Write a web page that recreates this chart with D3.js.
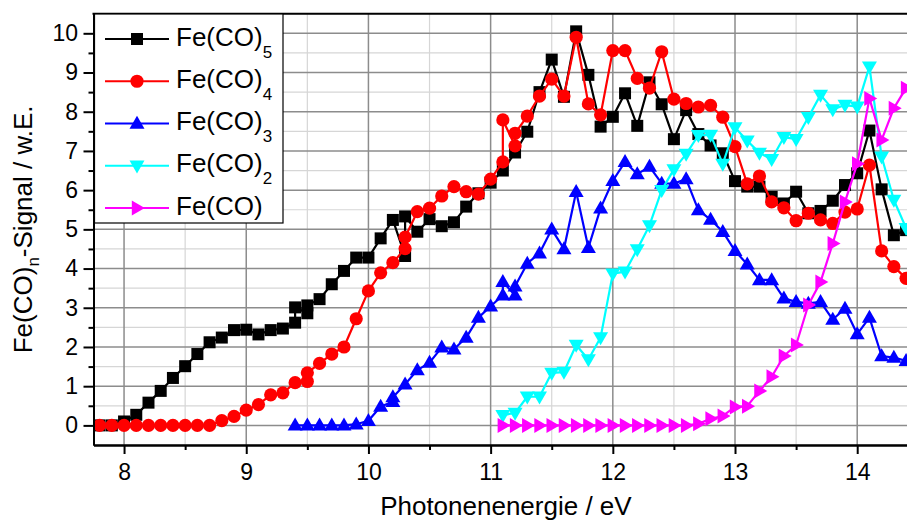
<!DOCTYPE html>
<html>
<head>
<meta charset="utf-8">
<script src="https://cdn.jsdelivr.net/npm/d3@7"></script>
<style>
  html, body { margin: 0; padding: 0; background: #fff; }
  svg { display: block; font-family: Arial, "Liberation Sans", sans-serif; }
</style>
</head>
<body>
<svg id="chart" width="907" height="522"></svg>
<script>
// Photon energies (eV) and signals for each fragment ion
const fe5Energy = [7.8,7.9,8.0,8.1,8.2,8.3,8.4,8.5,8.6,8.7,8.8,8.9,9.0,9.1,9.2,9.3,9.4,9.4,9.5,9.5,9.6,9.7,9.8,9.9,10.0,10.1,10.2,10.3,10.3,10.4,10.5,10.6,10.7,10.8,10.9,11.0,11.1,11.2,11.3,11.4,11.5,11.6,11.7,11.8,11.9,12.0,12.1,12.2,12.3,12.4,12.5,12.6,12.7,12.8,12.9,13.0,13.1,13.2,13.3,13.4,13.5,13.6,13.7,13.8,13.9,14.0,14.1,14.2,14.3,14.4];
const fe5Signal = [0.0,0.0,0.1,0.27,0.58,0.88,1.21,1.51,1.82,2.12,2.24,2.43,2.44,2.32,2.43,2.47,2.62,3.01,2.86,3.06,3.22,3.6,3.94,4.28,4.28,4.77,5.24,4.32,5.33,4.94,5.26,5.08,5.18,5.58,5.92,6.19,6.5,6.96,7.49,8.5,9.33,8.38,10.05,8.94,7.62,7.87,8.47,7.64,8.75,8.19,7.3,8.04,7.43,7.14,6.94,6.23,6.09,6.09,5.83,5.66,5.96,5.41,5.47,5.73,6.13,6.43,7.52,6.02,4.85,4.98];

const fe4Energy = [7.8,7.9,8.0,8.1,8.2,8.3,8.4,8.5,8.6,8.7,8.8,8.9,9.0,9.1,9.2,9.3,9.4,9.5,9.5,9.6,9.7,9.8,9.9,10.0,10.1,10.2,10.3,10.3,10.4,10.5,10.6,10.7,10.8,10.9,11.0,11.1,11.1,11.2,11.2,11.3,11.4,11.5,11.6,11.7,11.8,11.9,12.0,12.1,12.2,12.3,12.4,12.5,12.6,12.7,12.8,12.9,13.0,13.1,13.2,13.3,13.4,13.5,13.6,13.7,13.8,13.9,14.0,14.1,14.2,14.3,14.4];
const fe4Signal = [0,0,0,0,0,0,0,0,0,0,0.12,0.23,0.39,0.53,0.78,0.83,1.09,1.12,1.34,1.58,1.82,2.0,2.72,3.43,3.89,4.15,4.51,4.8,5.45,5.54,5.85,6.09,5.96,5.9,6.28,6.72,7.79,7.13,7.45,7.89,8.4,8.83,8.4,9.9,8.2,7.92,9.56,9.56,8.85,8.6,9.53,8.32,8.21,8.12,8.16,7.86,7.11,6.16,6.36,5.7,5.55,5.22,5.41,5.24,5.15,5.44,5.52,6.64,4.45,4.05,3.75];

const fe3Energy = [9.4,9.5,9.6,9.7,9.8,9.9,10.0,10.1,10.2,10.2,10.3,10.4,10.5,10.6,10.7,10.8,10.9,11.0,11.1,11.1,11.2,11.2,11.3,11.4,11.5,11.6,11.7,11.8,11.9,12.0,12.1,12.2,12.3,12.4,12.5,12.6,12.7,12.8,12.9,13.0,13.1,13.2,13.3,13.4,13.5,13.6,13.7,13.8,13.9,14.0,14.1,14.2,14.3,14.4];
const fe3Signal = [0,0,0,0,0,0.03,0.12,0.48,0.6,0.72,1.05,1.41,1.6,1.99,1.94,2.24,2.75,3.04,3.32,3.66,3.32,3.55,4.13,4.39,5.0,4.5,5.96,4.53,5.54,6.24,6.72,6.41,6.6,6.17,6.17,6.28,5.49,5.25,4.94,4.45,4.11,3.71,3.71,3.24,3.15,3.11,3.15,2.7,2.98,2.33,2.75,1.77,1.73,1.65];

const fe2Energy = [11.1,11.2,11.3,11.4,11.5,11.6,11.7,11.8,11.9,12.0,12.1,12.2,12.3,12.4,12.5,12.6,12.7,12.8,12.9,13.0,13.1,13.2,13.3,13.4,13.5,13.6,13.7,13.8,13.9,14.0,14.1,14.2,14.3,14.4];
const fe2Signal = [0.26,0.32,0.73,0.73,1.34,1.36,2.05,1.68,2.24,3.87,3.92,4.49,5.1,6.0,6.53,6.92,7.4,7.41,6.67,7.6,7.26,6.95,6.79,7.35,7.3,7.86,8.43,8.06,8.17,8.13,9.15,6.85,5.75,5.03];

const fe1Energy = [11.1,11.2,11.3,11.4,11.5,11.6,11.7,11.8,11.9,12.0,12.1,12.2,12.3,12.4,12.5,12.6,12.7,12.8,12.9,13.0,13.1,13.2,13.3,13.4,13.5,13.6,13.7,13.8,13.9,14.0,14.1,14.2,14.3,14.4];
const fe1Signal = [0,0,0,0,0,0,0,0,0,0,0,0,0,0,0,0,0.04,0.17,0.24,0.47,0.49,0.88,1.24,1.77,2.05,3.07,3.66,4.64,5.7,6.67,8.34,7.28,8.09,8.6];

const seriesSubscripts = ["5", "4", "3", "2", ""];
const seriesColors = ["#000000", "#ff0000", "#0000ff", "#00ffff", "#ff00ff"];
const seriesMarkers = ["square", "circle", "up", "down", "right"];

const xMajorTicks = [8, 9, 10, 11, 12, 13, 14];
const xMinorTicks = [8.5, 9.5, 10.5, 11.5, 12.5, 13.5, 14.5];
const yMajorTicks = [0, 1, 2, 3, 4, 5, 6, 7, 8, 9, 10];
const yMinorTicks = [-0.5, 0.5, 1.5, 2.5, 3.5, 4.5, 5.5, 6.5, 7.5, 8.5, 9.5, 10.5];

const series = [
  { e: fe5Energy, s: fe5Signal },
  { e: fe4Energy, s: fe4Signal },
  { e: fe3Energy, s: fe3Signal },
  { e: fe2Energy, s: fe2Signal },
  { e: fe1Energy, s: fe1Signal }
].map((d, i) => ({
  points: d.e.map((xv, k) => ({ x: xv, y: d.s[k] })),
  sub: seriesSubscripts[i],
  color: seriesColors[i],
  marker: seriesMarkers[i]
}));

const svg = d3.select("#chart");
const plotL = 93.5, plotR = 918.3, plotT = 13.7, plotB = 445;

const x = d3.scaleLinear().domain([7.75, 14.5]).range([plotL, plotR]);
const y = d3.scaleLinear().domain([-0.5, 10.5]).range([plotB, plotT]);

// grid: light half-unit lines, darker unit lines
const grid = svg.append("g");
grid.selectAll("line.vminor").data(xMinorTicks).join("line")
  .attr("x1", d => x(d)).attr("x2", d => x(d)).attr("y1", plotT).attr("y2", plotB)
  .attr("stroke", "#d6d6d6").attr("stroke-width", 1.2);
grid.selectAll("line.hminor").data(yMinorTicks).join("line")
  .attr("x1", plotL).attr("x2", plotR).attr("y1", d => y(d)).attr("y2", d => y(d))
  .attr("stroke", "#d6d6d6").attr("stroke-width", 1.2);
grid.selectAll("line.vmajor").data(xMajorTicks).join("line")
  .attr("x1", d => x(d)).attr("x2", d => x(d)).attr("y1", plotT).attr("y2", plotB)
  .attr("stroke", "#8c8c8c").attr("stroke-width", 1.5);
grid.selectAll("line.hmajor").data(yMajorTicks).join("line")
  .attr("x1", plotL).attr("x2", plotR).attr("y1", d => y(d)).attr("y2", d => y(d))
  .attr("stroke", "#8c8c8c").attr("stroke-width", 1.5);

// marker shapes
function markerPath(type) {
  const s = 15, h = 13;
  if (type === "square") return "M-6,-6H6V6H-6Z";
  if (type === "circle") return d3.arc()({ innerRadius: 0, outerRadius: 6.6, startAngle: 0, endAngle: 2 * Math.PI });
  if (type === "up") return `M0,${-h * 0.6}L${s / 2},${h * 0.4}L${-s / 2},${h * 0.4}Z`;
  if (type === "down") return `M0,${h * 0.6}L${s / 2},${-h * 0.4}L${-s / 2},${-h * 0.4}Z`;
  return `M${h * 0.6},0L${-h * 0.4},${s / 2}L${-h * 0.4},${-s / 2}Z`;
}

const line = d3.line().x(d => x(d.x)).y(d => y(d.y));
series.forEach(sr => {
  const g = svg.append("g");
  g.append("path").datum(sr.points).attr("d", line)
    .attr("fill", "none").attr("stroke", sr.color).attr("stroke-width", 2.2)
    .attr("stroke-linejoin", "round");
  g.selectAll("path.m").data(sr.points).join("path").attr("class", "m")
    .attr("d", markerPath(sr.marker))
    .attr("transform", d => `translate(${x(d.x)},${y(d.y)})`)
    .attr("fill", sr.color);
});

// axes
const fontTick = 23;
const yAxis = svg.append("g").attr("transform", `translate(${plotL},0)`)
  .call(d3.axisLeft(y).tickValues(yMajorTicks).tickFormat(d3.format("d"))
    .tickSize(10).tickSizeOuter(0).tickPadding(5.5));
const yAxisMinor = svg.append("g").attr("transform", `translate(${plotL},0)`)
  .call(d3.axisLeft(y).tickValues(yMinorTicks.filter(v => v > -0.5 && v < 10.5)).tickSize(5).tickSizeOuter(0).tickFormat(""));
const xAxis = svg.append("g").attr("transform", `translate(0,${plotB})`)
  .call(d3.axisBottom(x).tickValues(xMajorTicks).tickFormat(d3.format("d"))
    .tickSize(9).tickSizeOuter(0).tickPadding(10));
const xAxisMinor = svg.append("g").attr("transform", `translate(0,${plotB})`)
  .call(d3.axisBottom(x).tickValues(xMinorTicks).tickSize(5).tickSizeOuter(0).tickFormat(""));
[yAxis, yAxisMinor, xAxis, xAxisMinor].forEach(a => {
  a.selectAll(".domain").attr("stroke", "#000").attr("stroke-width", 2);
  a.selectAll(".tick line").attr("stroke", "#000").attr("stroke-width", 2);
  a.selectAll(".tick text").attr("fill", "#000").attr("font-size", fontTick)
    .attr("font-family", "Arial, 'Liberation Sans', sans-serif");
});
// top frame
svg.append("line").attr("x1", plotL - 1).attr("x2", plotR).attr("y1", plotT).attr("y2", plotT)
  .attr("stroke", "#000").attr("stroke-width", 2);

// axis titles
svg.append("text").attr("x", (plotL + plotR) / 2).attr("y", 515)
  .attr("text-anchor", "middle").attr("font-size", 26).attr("fill", "#000")
  .text("Photonenenergie / eV");

const yTitle = svg.append("text")
  .attr("transform", `translate(32,${(plotT + plotB) / 2}) rotate(-90)`)
  .attr("text-anchor", "middle").attr("font-size", 26).attr("fill", "#000");
yTitle.append("tspan").text("Fe(CO)");
yTitle.append("tspan").attr("font-size", 17).attr("dy", 7).text("n");
yTitle.append("tspan").attr("dy", -7).text("-Signal / w.E.");

// legend
const legend = svg.append("g");
legend.append("rect").attr("x", 94.5).attr("y", 14).attr("width", 188.5).attr("height", 209)
  .attr("fill", "#fff").attr("stroke", "#000").attr("stroke-width", 1.2);
series.forEach((sr, i) => {
  const cy = 39 + i * 42.25;
  const row = legend.append("g");
  row.append("line").attr("x1", 105).attr("x2", 169).attr("y1", cy).attr("y2", cy)
    .attr("stroke", sr.color).attr("stroke-width", 2.2);
  row.append("path").attr("d", markerPath(sr.marker))
    .attr("transform", `translate(137,${cy})`).attr("fill", sr.color);
  const t = row.append("text").attr("x", 176).attr("y", cy + 6.5)
    .attr("font-size", 26).attr("fill", "#000");
  t.append("tspan").text("Fe(CO)");
  if (sr.sub) t.append("tspan").attr("font-size", 17).attr("dy", 12).text(sr.sub);
});
</script>
</body>
</html>
